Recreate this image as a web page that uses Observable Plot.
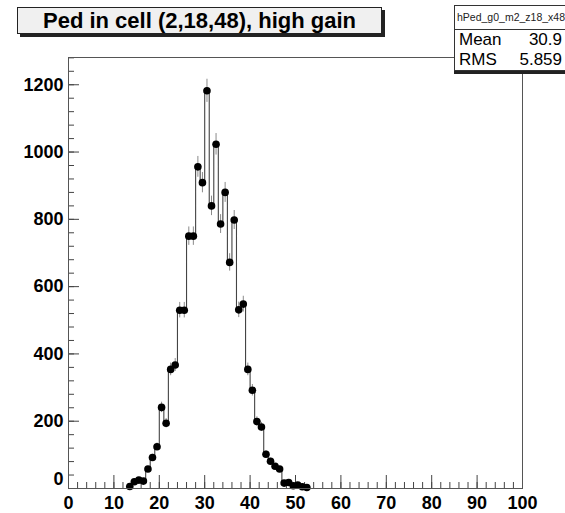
<!DOCTYPE html>
<html>
<head>
<meta charset="utf-8">
<script src="https://cdn.jsdelivr.net/npm/d3@7"></script>
<script src="https://cdn.jsdelivr.net/npm/@observablehq/plot@0.6"></script>
<style>
  body { margin: 0; background: #fff; }
  #wrap { position: relative; width: 565px; height: 513px; overflow: hidden;
          font-family: "Liberation Sans", Arial, Helvetica, sans-serif; }
  #wrap svg { position: absolute; left: 0; top: 0; }
  .title { position: absolute; left: 17px; top: 7px; width: 363px; height: 25px;
           background: #f0f0f0; border: 1px solid #222; box-shadow: 3px 3px 0 #222;
           font-weight: bold; font-size: 22px; line-height: 26px; text-align: center; color: #000; }
  .stats { position: absolute; left: 454px; top: 5px; width: 130px; height: 64px;
           background: #fff; border: 1px solid #333; box-shadow: 0 3px 0 #222; }
  .stats .name { height: 23px; border-bottom: 1px solid #333; font-size: 10.5px; line-height: 22px;
                 padding-left: 2px; color: #222; white-space: nowrap; }
  .stats .row { position: relative; height: 20px; font-size: 17px; line-height: 20px; width: 108px; }
  .stats .row:first-of-type { margin-top: 2px; }
  .stats .row .k { position: absolute; left: 4px; }
  .stats .row .v { position: absolute; right: 1px; }
</style>
</head>
<body>
<div id="wrap"></div>
<script>
// Histogram of pedestal values, bins of width 1 on [0, 100)
const xMin = 0, xMax = 100;
const firstBin = 13;
const counts = [6, 20, 25, 22, 58, 92, 124, 241, 194, 354,
                367, 530, 530, 750, 750, 956, 909, 1182, 840, 1023,
                786, 880, 672, 798, 531, 548, 354, 292, 199, 183,
                102, 81, 66, 58, 16, 18, 8, 10, 5, 3];
const yMax = 1281;

const xMajor = d3.range(0, 101, 10);
const xMinor = d3.range(0, 101, 2);
const yMajor = d3.range(0, 1201, 200);
const yMinor = d3.range(0, 1281, 40);

const histName = "hPed_g0_m2_z18_x48";
const titleText = "Ped in cell (2,18,48), high gain";
const statLabels = ["Mean", "RMS"];
const statValues = ["30.9", "5.859"];

const bins = counts.map((n, i) => ({lo: firstBin + i, n}));
// step outline through every bin edge, empty bins included
const outline = d3.range(xMin, xMax + 1).map(e => {
  const i = e - firstBin;
  return {x: e, y: i >= 0 && i < counts.length ? counts[i] : 0};
});

const W = 565, H = 513;
const mL = 68, mR = 43, mT = 57, mB = 25;
const innerW = W - mL - mR, innerH = H - mT - mB;
const tickColor = "#444";

const chart = Plot.plot({
  width: W, height: H,
  marginLeft: mL, marginRight: mR, marginTop: mT, marginBottom: mB,
  x: {domain: [xMin, xMax]},
  y: {domain: [0, yMax]},
  style: {fontFamily: '"Liberation Sans", Arial, Helvetica, sans-serif', color: "#000", background: "#fff"},
  marks: [
    Plot.ruleX(xMinor, {x: d => d, stroke: tickColor, insetTop: innerH - 6}),
    Plot.ruleX(xMajor, {x: d => d, stroke: tickColor, insetTop: innerH - 13}),
    Plot.ruleY(yMinor, {y: d => d, stroke: tickColor, insetRight: innerW - 6}),
    Plot.ruleY(yMajor, {y: d => d, stroke: tickColor, insetRight: innerW - 11}),
    Plot.line(outline, {x: "x", y: "y", curve: "step-after", stroke: "#444", strokeWidth: 1.1}),
    Plot.ruleX(bins, {x: d => d.lo + 0.5, y1: d => d.n - Math.sqrt(d.n), y2: d => d.n + Math.sqrt(d.n),
                      stroke: "#8a8a8a", strokeWidth: 1}),
    Plot.dot(bins, {x: d => d.lo + 0.5, y: "n", r: 3.8, fill: "#000", stroke: "none"}),
    Plot.frame({stroke: "#555"}),
    Plot.axisX({ticks: xMajor, tickSize: 0, tickPadding: 8, tickFormat: d3.format("d"),
                fontSize: 18, fontWeight: "bold", label: null}),
    Plot.axisY({ticks: yMajor.filter(v => v > 0), tickSize: 0, tickPadding: 5, tickFormat: d3.format("d"),
                fontSize: 18, fontWeight: "bold", label: null}),
    Plot.axisY({ticks: [0], tickSize: 0, tickPadding: 5, dy: -9, tickFormat: d3.format("d"),
                fontSize: 18, fontWeight: "bold", label: null})
  ]
});

const wrap = document.getElementById("wrap");
wrap.appendChild(chart);

const title = document.createElement("div");
title.className = "title";
title.textContent = titleText;
wrap.appendChild(title);

const stats = document.createElement("div");
stats.className = "stats";
const nm = document.createElement("div");
nm.className = "name";
nm.textContent = histName;
stats.appendChild(nm);
statLabels.forEach((k, i) => {
  const row = document.createElement("div");
  row.className = "row";
  const a = document.createElement("span"); a.className = "k"; a.textContent = k;
  const b = document.createElement("span"); b.className = "v"; b.textContent = statValues[i];
  row.appendChild(a); row.appendChild(b);
  stats.appendChild(row);
});
wrap.appendChild(stats);
</script>
</body>
</html>
